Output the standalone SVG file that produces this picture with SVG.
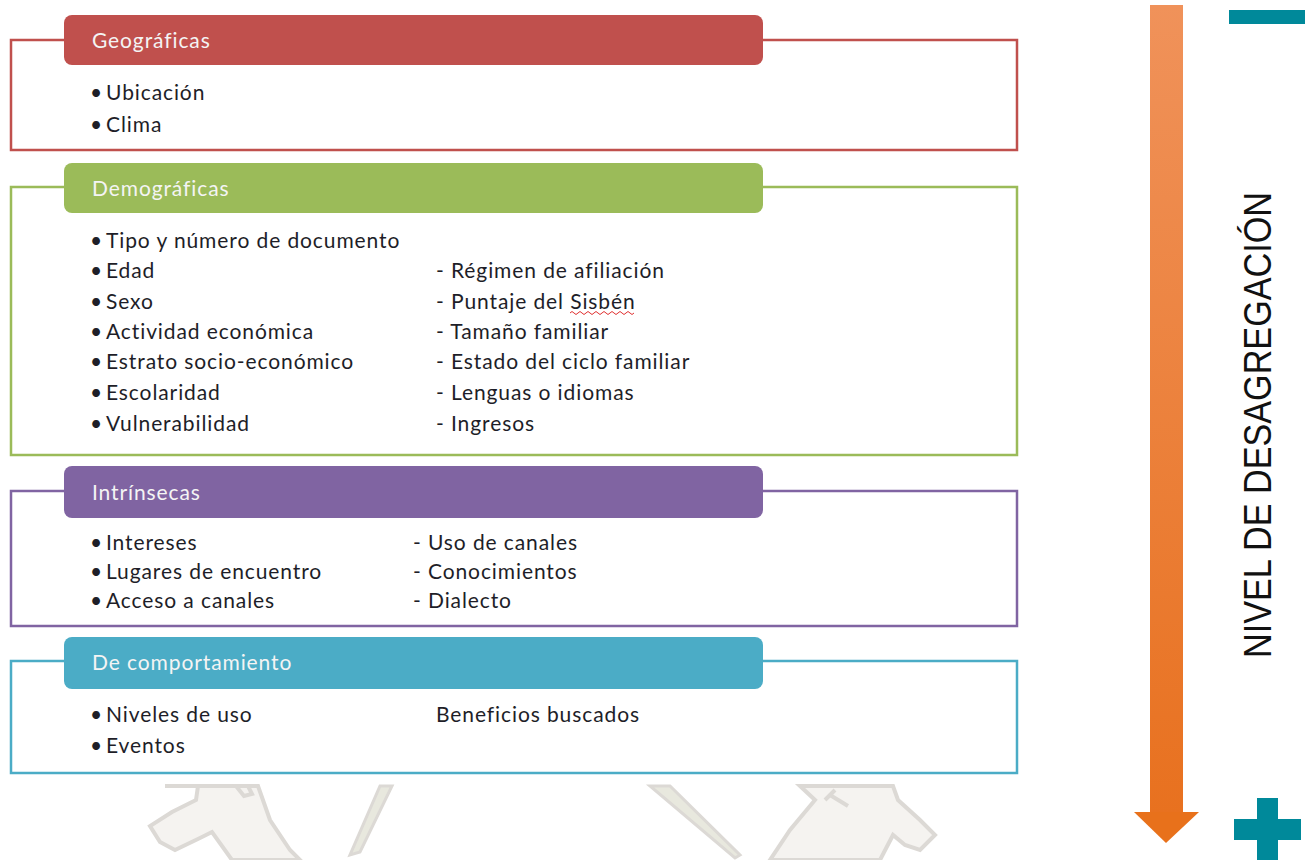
<svg xmlns="http://www.w3.org/2000/svg" width="1311" height="860" viewBox="0 0 1311 860">
<defs>
<linearGradient id="shaft" x1="0" y1="0" x2="0" y2="1">
<stop offset="0" stop-color="#F0925A"/>
<stop offset="1" stop-color="#E8711F"/>
</linearGradient>
<style>
.t{font-family:"Lato","Liberation Sans",sans-serif;font-size:21px;letter-spacing:0.9px;fill:#1E1E28;}
.h{font-family:"Lato","Liberation Sans",sans-serif;font-size:21px;letter-spacing:0.9px;fill:#F4F4F4;}
.frame{fill:none;stroke-width:2.5;}
.wm{fill:#F5F3F0;stroke:#DCD9D5;stroke-width:4;}
</style>
</defs>
<rect width="1311" height="860" fill="#FFFFFF"/>
<g id="watermark">
<path class="wm" d="M165,786 L198,786 L196,800 L172,812 L150,826 L160,842 L175,850 L200,838 L212,832 L232,860 L300,860 L290,850 L270,820 L258,786 Z"/>
<path class="wm" d="M236,786 L248,786 L252,794 L244,796 Z"/>
<path d="M380,786 L392,786 L360,852 L350,855 Z" fill="#E8E8DE" stroke="#DCD9D5" stroke-width="3"/>
<path d="M650,786 L670,786 L740,855 L735,858 Z" fill="#E8E8DE" stroke="#DCD9D5" stroke-width="3"/>
<path class="wm" d="M800,786 L893,786 L898,800 L920,820 L935,835 L920,850 L905,845 L893,835 L880,860 L770,860 L790,830 L815,800 Z"/>
<path d="M825,800 L835,790 M830,795 L848,806" stroke="#DCD9D5" stroke-width="4" fill="none"/>
</g>
<g id="node-geograficas">
<path class="frame" stroke="#C0504D" d="M64,40 L11,40 L11,150 L1017,150 L1017,40 L763,40"/>
<rect x="64" y="15" width="699" height="50" rx="8" fill="#C0504D"/>
<text class="h" x="92" y="48">Geográficas</text>
<text class="t" x="90" y="100">•</text><text class="t" x="106" y="100">Ubicación</text>
<text class="t" x="90" y="132">•</text><text class="t" x="106" y="132">Clima</text>
</g>
<g id="node-demograficas">
<path class="frame" stroke="#9BBB59" d="M64,187 L11,187 L11,455 L1017,455 L1017,187 L763,187"/>
<rect x="64" y="163" width="699" height="50" rx="8" fill="#9BBB59"/>
<text class="h" x="92" y="196">Demográficas</text>
<text class="t" x="90" y="248">•</text><text class="t" x="106" y="248">Tipo y número de documento</text>
<text class="t" x="90" y="278">•</text><text class="t" x="106" y="278">Edad</text>
<text class="t" x="90" y="309">•</text><text class="t" x="106" y="309">Sexo</text>
<text class="t" x="90" y="339">•</text><text class="t" x="106" y="339">Actividad económica</text>
<text class="t" x="90" y="369">•</text><text class="t" x="106" y="369">Estrato socio-económico</text>
<text class="t" x="90" y="400">•</text><text class="t" x="106" y="400">Escolaridad</text>
<text class="t" x="90" y="431">•</text><text class="t" x="106" y="431">Vulnerabilidad</text>
<text class="t" x="436" y="278">- Régimen de afiliación</text>
<text class="t" x="436" y="309">- Puntaje del Sisbén</text>
<path d="M570,313 q2,-3 4,0 t4,0 t4,0 t4,0 t4,0 t4,0 t4,0 t4,0 t4,0 t4,0 t4,0 t4,0 t4,0 t4,0 t4,0 t4,0" fill="none" stroke="#E03030" stroke-width="1"/>
<text class="t" x="436" y="339">- Tamaño familiar</text>
<text class="t" x="436" y="369">- Estado del ciclo familiar</text>
<text class="t" x="436" y="400">- Lenguas o idiomas</text>
<text class="t" x="436" y="431">- Ingresos</text>
</g>
<g id="node-intrinsecas">
<path class="frame" stroke="#8064A2" d="M64,491 L11,491 L11,626 L1017,626 L1017,491 L763,491"/>
<rect x="64" y="466" width="699" height="52" rx="8" fill="#8064A2"/>
<text class="h" x="92" y="500">Intrínsecas</text>
<text class="t" x="90" y="550">•</text><text class="t" x="106" y="550">Intereses</text>
<text class="t" x="90" y="579">•</text><text class="t" x="106" y="579">Lugares de encuentro</text>
<text class="t" x="90" y="608">•</text><text class="t" x="106" y="608">Acceso a canales</text>
<text class="t" x="413" y="550">- Uso de canales</text>
<text class="t" x="413" y="579">- Conocimientos</text>
<text class="t" x="413" y="608">- Dialecto</text>
</g>
<g id="node-comportamiento">
<path class="frame" stroke="#4BACC6" d="M64,661 L11,661 L11,773 L1017,773 L1017,661 L763,661"/>
<rect x="64" y="637" width="699" height="52" rx="8" fill="#4BACC6"/>
<text class="h" x="92" y="670">De comportamiento</text>
<text class="t" x="90" y="722">•</text><text class="t" x="106" y="722">Niveles de uso</text>
<text class="t" x="90" y="753">•</text><text class="t" x="106" y="753">Eventos</text>
<text class="t" x="436" y="722">Beneficios buscados</text>
</g>
<g id="connectors">
<rect x="1150" y="5" width="33" height="808" fill="url(#shaft)"/>
<polygon points="1134,812 1199,812 1166,843" fill="#E8711B"/>
</g>
<g id="scale">
<rect x="1229" y="10" width="76" height="14" fill="#00899A"/>
<rect x="1234" y="819" width="67" height="21" fill="#00899A"/>
<rect x="1257" y="798" width="21" height="62" fill="#00899A"/>
<text x="0" y="0" transform="translate(1271,425) rotate(-90)" text-anchor="middle" font-family="Liberation Sans, sans-serif" font-size="38" fill="#111111" textLength="466" lengthAdjust="spacingAndGlyphs">NIVEL DE DESAGREGACIÓN</text>
</g>
</svg>
